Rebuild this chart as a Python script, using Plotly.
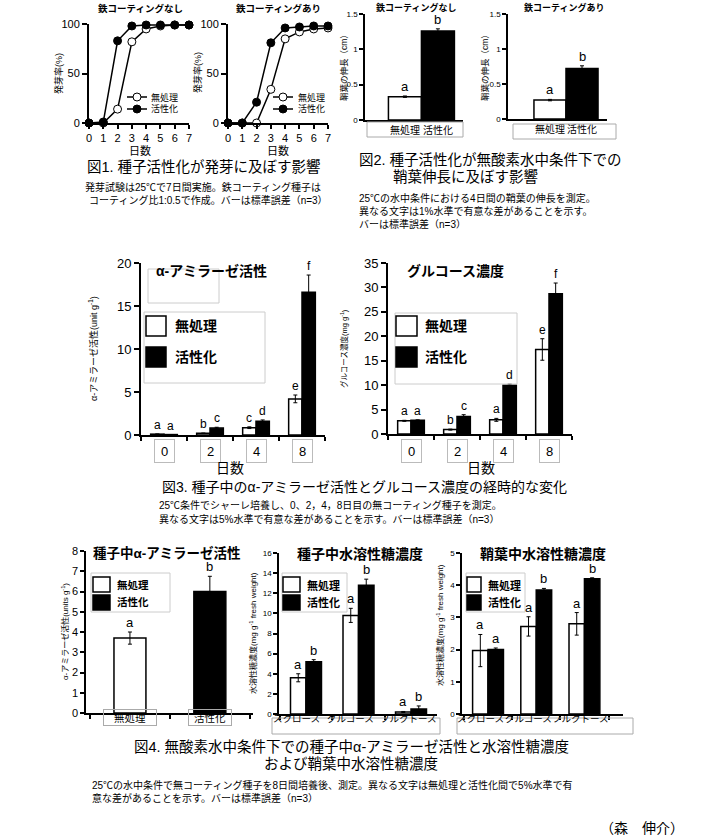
import plotly.graph_objects as go

W, H = 705, 840
def px(x): return x / W
def py(y): return 1 - y / H
def dx(a, b): return [a / W, b / W]
def dy(top, bottom): return [1 - bottom / H, 1 - top / H]

FONT = "Liberation Sans, Arial, Noto Sans CJK JP, sans-serif"

# ---------------- data ----------------
days_fig1 = [0, 1, 2, 3, 4, 5, 6, 7]
germ_nocoat_untreated = [0, 0, 14, 82, 95, 98, 99, 99]
germ_nocoat_activated = [0, 1, 83, 98, 99, 99, 99, 99]
germ_coat_untreated = [0, 0, 0, 34, 85, 92, 95, 96]
germ_coat_activated = [0, 0, 21, 81, 96, 97, 98, 98]

treatments = ["無処理", "活性化"]
coleoptile_nocoat = [0.33, 1.26]
coleoptile_nocoat_err = [0.01, 0.03]
coleoptile_coat = [0.27, 0.72]
coleoptile_coat_err = [0.01, 0.04]
coleoptile_nocoat_letters = ["a", "b"]
coleoptile_coat_letters = ["a", "b"]

fig3_days = ["0", "2", "4", "8"]
amylase_untreated = [0.1, 0.2, 0.85, 4.2]
amylase_untreated_err = [0.0, 0.03, 0.1, 0.45]
amylase_activated = [0.05, 0.8, 1.6, 16.6]
amylase_activated_err = [0.0, 0.1, 0.15, 2.0]
amylase_letters_untreated = ["a", "b", "c", "e"]
amylase_letters_activated = ["a", "c", "d", "f"]
glucose_untreated = [2.7, 0.9, 2.9, 17.3]
glucose_untreated_err = [0.1, 0.1, 0.3, 2.2]
glucose_activated = [2.8, 3.6, 10.0, 28.7]
glucose_activated_err = [0.1, 0.35, 0.2, 2.2]
glucose_letters_untreated = ["a", "b", "a", "e"]
glucose_letters_activated = ["a", "c", "d", "f"]

seed_amylase = [3.7, 6.0]
seed_amylase_err = [0.3, 0.75]
seed_amylase_letters = ["a", "b"]

sugars = ["スクロース", "グルコース", "フルクトース"]
seed_sugar_untreated = [3.6, 9.8, 0.2]
seed_sugar_untreated_err = [0.4, 0.7, 0.05]
seed_sugar_activated = [5.2, 12.8, 0.5]
seed_sugar_activated_err = [0.2, 0.6, 0.3]
seed_sugar_letters_untreated = ["a", "a", "a"]
seed_sugar_letters_activated = ["b", "b", "b"]
cole_sugar_untreated = [1.97, 2.72, 2.8]
cole_sugar_untreated_err = [0.5, 0.3, 0.35]
cole_sugar_activated = [2.0, 3.85, 4.2]
cole_sugar_activated_err = [0.05, 0.05, 0.03]
cole_sugar_letters_untreated = ["a", "a", "a"]
cole_sugar_letters_activated = ["a", "b", "b"]

# ---------------- figure ----------------
fig = go.Figure()
annotations = []
shapes = []

def txt(x, y, s, size, anchor="left", bold=False, color="black", angle=0):
    annotations.append(dict(
        x=px(x), y=py(y), xref="paper", yref="paper", text=("<b>%s</b>" % s) if bold else s,
        showarrow=False, xanchor=anchor, yanchor="middle", textangle=angle,
        font=dict(size=size, color=color, family=FONT)))

def rect(x0, y0, x1, y1, line="#bbbbbb", fill="rgba(0,0,0,0)", lw=1):
    shapes.append(dict(type="rect", xref="paper", yref="paper", x0=px(x0), x1=px(x1),
                       y0=py(y1), y1=py(y0), line=dict(color=line, width=lw), fillcolor=fill, layer="above"))

def errbar():
    return dict(type="data", color="black", thickness=1, width=2)

# Figure 1 lines
for (ua, aa, xa, ya) in [(germ_nocoat_untreated, germ_nocoat_activated, "x", "y"),
                         (germ_coat_untreated, germ_coat_activated, "x2", "y2")]:
    fig.add_trace(go.Scatter(x=days_fig1, y=ua, mode="lines+markers", xaxis=xa, yaxis=ya,
                             line=dict(color="black", width=1.5), cliponaxis=False,
                             marker=dict(size=8, color="white", line=dict(color="black", width=1))))
    fig.add_trace(go.Scatter(x=days_fig1, y=aa, mode="lines+markers", xaxis=xa, yaxis=ya,
                             line=dict(color="black", width=1.5), cliponaxis=False,
                             marker=dict(size=8, color="black", line=dict(color="black", width=1))))

# Figure 2 bars
for (vals, errs, letters, xa, ya) in [(coleoptile_nocoat, coleoptile_nocoat_err, coleoptile_nocoat_letters, "x3", "y3"),
                                      (coleoptile_coat, coleoptile_coat_err, coleoptile_coat_letters, "x4", "y4")]:
    e = errbar(); e["array"] = errs
    fig.add_trace(go.Bar(x=treatments, y=vals, width=1.0, xaxis=xa, yaxis=ya, error_y=e,
                         marker=dict(color=["white", "black"], line=dict(color="black", width=1.5))))
    for c, v, er, l in zip(treatments, vals, errs, letters):
        annotations.append(dict(x=c, y=v + er, xref=xa, yref=ya, text=l, showarrow=False,
                                yanchor="bottom", yshift=0, font=dict(size=13, color="black", family=FONT)))

# Grouped bar helper (numeric positions = category index)
def grouped(cats, u, ue, ul, a, ae, al, xa, ya, w, lsize):
    pos = list(range(len(cats)))
    e1 = errbar(); e1["array"] = ue
    e2 = errbar(); e2["array"] = ae
    fig.add_trace(go.Bar(x=pos, y=u, width=w, offset=-w, xaxis=xa, yaxis=ya, error_y=e1,
                         marker=dict(color="white", line=dict(color="black", width=1.5))))
    fig.add_trace(go.Bar(x=pos, y=a, width=w, offset=0, xaxis=xa, yaxis=ya, error_y=e2,
                         marker=dict(color="black", line=dict(color="black", width=1.5))))
    for i in pos:
        annotations.append(dict(x=i - w / 2, y=u[i] + ue[i], xref=xa, yref=ya, text=ul[i], showarrow=False,
                                yanchor="bottom", yshift=0, font=dict(size=lsize, color="black", family=FONT)))
        annotations.append(dict(x=i + w / 2, y=a[i] + ae[i], xref=xa, yref=ya, text=al[i], showarrow=False,
                                yanchor="bottom", yshift=0, font=dict(size=lsize, color="black", family=FONT)))

W3 = 0.29
grouped(fig3_days, amylase_untreated, amylase_untreated_err, amylase_letters_untreated,
        amylase_activated, amylase_activated_err, amylase_letters_activated, "x5", "y5", W3, 12)
grouped(fig3_days, glucose_untreated, glucose_untreated_err, glucose_letters_untreated,
        glucose_activated, glucose_activated_err, glucose_letters_activated, "x6", "y6", W3, 12)

# Figure 4 left
e = errbar(); e["array"] = seed_amylase_err
fig.add_trace(go.Bar(x=treatments, y=seed_amylase, width=0.4, xaxis="x7", yaxis="y7", error_y=e,
                     marker=dict(color=["white", "black"], line=dict(color="black", width=1.5))))
for c, v, er, l in zip(treatments, seed_amylase, seed_amylase_err, seed_amylase_letters):
    annotations.append(dict(x=c, y=v + er, xref="x7", yref="y7", text=l, showarrow=False,
                            yanchor="bottom", yshift=0, font=dict(size=13, color="black", family=FONT)))

grouped(sugars, seed_sugar_untreated, seed_sugar_untreated_err, seed_sugar_letters_untreated,
        seed_sugar_activated, seed_sugar_activated_err, seed_sugar_letters_activated, "x8", "y8", 0.295, 13)
grouped(sugars, cole_sugar_untreated, cole_sugar_untreated_err, cole_sugar_letters_untreated,
        cole_sugar_activated, cole_sugar_activated_err, cole_sugar_letters_activated, "x9", "y9", 0.32, 13)

# ---------------- axes ----------------
def xax(a, b, anchor, rng=None, lw=1.5, ticks="outside", showlabels=True, size=11, cat=False,
        dtick=None, boundaries=False, nlab=None):
    d = dict(domain=dx(a, b), anchor=anchor, showline=True, linecolor="black", linewidth=lw,
             ticks=ticks, ticklen=4, tickwidth=lw, tickcolor="black", showgrid=False, zeroline=False,
             showticklabels=showlabels, tickangle=0,
             tickfont=dict(size=size, color="black", family=FONT), fixedrange=True)
    if rng is not None: d["range"] = rng
    if cat: d["type"] = "category"
    if dtick is not None: d["dtick"] = dtick
    if boundaries: d["tickson"] = "boundaries"
    if nlab is not None:
        d["type"] = "linear"
        d["tickmode"] = "array"
        d["tickvals"] = [i - 0.5 for i in range(nlab + 1)]
        d["showticklabels"] = False
    return d

def yax(top, bottom, anchor, rng, dtick, size=11, lw=1.5, ticklen=4):
    return dict(domain=dy(top, bottom), anchor=anchor, range=rng, dtick=dtick, showline=True,
                linecolor="black", linewidth=lw, ticks="outside", ticklen=ticklen, tickwidth=lw,
                tickcolor="black", showgrid=False, zeroline=False,
                tickfont=dict(size=size, color="black", family=FONT), fixedrange=True)

layout = dict(
    width=W, height=H, margin=dict(l=0, r=0, t=0, b=0, autoexpand=False), showlegend=False,
    paper_bgcolor="white", plot_bgcolor="white", barmode="overlay",
    font=dict(family=FONT, color="black"),
    xaxis=xax(89, 189, "y", rng=[0, 7], lw=2, dtick=1, size=11),
    yaxis=yax(24, 123, "x", [0, 100], 50, size=11, lw=2, ticklen=5),
    xaxis2=xax(228, 328, "y2", rng=[0, 7], lw=2, dtick=1, size=11),
    yaxis2=yax(24, 123, "x2", [0, 100], 50, size=11, lw=2, ticklen=5),
    xaxis3=xax(365, 463, "y3", rng=[-1.21, 1.76], ticks="", size=10, cat=True),
    yaxis3=yax(14, 120, "x3", [0, 1.5], 0.5, size=8),
    xaxis4=xax(508, 607, "y4", rng=[-1.31, 1.78], ticks="", size=10, cat=True),
    yaxis4=yax(14, 119, "x4", [0, 1.5], 0.5, size=8),
    xaxis5=xax(141, 325, "y5", rng=[-0.5, 3.5], lw=2, nlab=len(fig3_days)),
    yaxis5=yax(263, 435, "x5", [0, 20], 5, size=13, lw=2, ticklen=5),
    xaxis6=xax(388, 572, "y6", rng=[-0.5, 3.5], lw=2, nlab=len(fig3_days)),
    yaxis6=yax(263, 434, "x6", [0, 35], 5, size=13, lw=2, ticklen=5),
    xaxis7=xax(86, 253, "y7", rng=[-0.55, 1.54], showlabels=False, cat=True, boundaries=True),
    yaxis7=yax(551, 713, "x7", [0, 8], 1, size=11),
    xaxis8=xax(279, 437, "y8", rng=[-0.514, 2.495], size=9.5, nlab=len(sugars)),
    yaxis8=yax(553, 714, "x8", [0, 16], 2, size=8),
    xaxis9=xax(462, 623, "y9", rng=[-0.54, 2.8], size=9.5, nlab=len(sugars)),
    yaxis9=yax(553, 714, "x9", [0, 5], 1, size=8),
)

# ---------------- texts ----------------
# Fig1
txt(140, 9, "鉄コーティングなし", 9.5, "center", bold=True)
txt(278, 9, "鉄コーティングあり", 9.5, "center", bold=True)
txt(58, 73, "発芽率(%)", 9, "center", angle=-90)
txt(197, 73, "発芽率(%)", 9, "center", angle=-90)
txt(140, 151, "日数", 11, "center")
txt(278, 151, "日数", 11, "center")
for (lx0, lx1, cx, tx) in [(127, 147, 137, 149), (273, 293, 283, 296)]:
    for (yy, fillc, lab) in [(97, "white", "無処理"), (109, "black", "活性化")]:
        shapes.append(dict(type="line", xref="paper", yref="paper", x0=px(lx0), x1=px(lx1), y0=py(yy), y1=py(yy),
                           line=dict(color="black", width=1.5)))
        shapes.append(dict(type="circle", xref="paper", yref="paper", x0=px(cx - 4), x1=px(cx + 4),
                           y0=py(yy + 4), y1=py(yy - 4), fillcolor=fillc, line=dict(color="black", width=1)))
        txt(tx, yy, lab, 9)
txt(85, 167, "図1. 種子活性化が発芽に及ぼす影響", 14.5)
txt(83, 187, "発芽試験は25℃で7日間実施。鉄コーティング種子は", 10)
txt(87, 200, "コーティング比1:0.5で作成。バーは標準誤差（n=3）", 10)

# Fig2
txt(416, 8, "鉄コーティングなし", 9, "center", bold=True)
txt(564, 8, "鉄コーティングあり", 9, "center", bold=True)
txt(344, 66, "鞘葉の伸長（cm）", 8.5, "center", angle=-90)
txt(485, 66, "鞘葉の伸長（cm）", 8.5, "center", angle=-90)
rect(367, 122, 463, 137, line="#aaaaaa")
rect(513, 124, 616, 139, line="#aaaaaa")
txt(357, 160, "図2. 種子活性化が無酸素水中条件下での", 14.5)
txt(391, 177, "鞘葉伸長に及ぼす影響", 14.5)
txt(357, 198, "25℃の水中条件における4日間の鞘葉の伸長を測定。", 10)
txt(357, 211, "異なる文字は1%水準で有意な差があることを示す。", 10)
txt(357, 224, "バーは標準誤差（n=3）", 10)

# Fig3
txt(211, 271, "α-アミラーゼ活性", 14, "center", bold=True)
txt(455, 271, "グルコース濃度", 14, "center", bold=True)
txt(93, 349, "α-アミラーゼ活性(unit g<sup>-1</sup>)", 9, "center", angle=-90)
txt(344, 349, "グルコース濃度(mg g<sup>-1</sup>)", 7.5, "center", angle=-90)
for xa in ["x5", "x6"]:
    for i, c in enumerate(fig3_days):
        annotations.append(dict(x=i, xref=xa, y=py(451), yref="paper", text=c, showarrow=False,
                                bordercolor="#bbbbbb", borderwidth=1, borderpad=0, width=19, height=22,
                                font=dict(size=13, color="black", family=FONT)))
txt(230, 468, "日数", 14, "center")
txt(481, 468, "日数", 14, "center")
rect(148, 269, 219, 303, line="#cccccc")
rect(144, 312, 265, 383, line="#cccccc")
rect(395, 313, 517, 384, line="#cccccc")
for (sx0, sx1, tx) in [(146, 166, 173), (396, 417, 423)]:
    rect(sx0, 316, sx1, 336, line="black", fill="white", lw=1.5)
    rect(sx0, 347, sx1, 367, line="black", fill="black", lw=1.5)
    txt(tx, 326, "無処理", 14, bold=True)
    txt(tx, 357, "活性化", 14, bold=True)
txt(160, 487, "図3. 種子中のα-アミラーゼ活性とグルコース濃度の経時的な変化", 14)
txt(157, 505, "25℃条件でシャーレ培養し、0、2，4，8日目の無コーティング種子を測定。", 10)
txt(157, 519, "異なる文字は5%水準で有意な差があることを示す。バーは標準誤差（n=3）", 10)

# Fig4
txt(167, 553, "種子中α-アミラーゼ活性", 13.5, "center", bold=True)
txt(360, 554, "種子中水溶性糖濃度", 14, "center", bold=True)
txt(543, 554, "鞘葉中水溶性糖濃度", 14, "center", bold=True)
txt(65, 632, "α-アミラーゼ活性(units g<sup>-1</sup>)", 8, "center", angle=-90)
txt(253, 633, "水溶性糖濃度(mg g<sup>-1</sup> fresh weight)", 8, "center", angle=-90)
txt(440, 625, "水溶性糖濃度(mg g<sup>-1</sup> fresh weight)", 8, "center", angle=-90)
for c, wbox in zip(treatments, [52, 42]):
    annotations.append(dict(x=c, xref="x7", y=py(726), yref="paper", text=c, showarrow=False,
                            bordercolor="#aaaaaa", borderwidth=1, borderpad=0, width=wbox, height=15,
                            font=dict(size=10.5, color="black", family=FONT)))
for xa, shifts in [("x8", [-9, -8, -3]), ("x9", [-8, -8, -4])]:
    for i, c in enumerate(sugars):
        annotations.append(dict(x=i, xref=xa, xshift=shifts[i], y=py(726), yref="paper", text=c,
                                showarrow=False, font=dict(size=9.5, color="black", family=FONT)))
rect(272, 718, 440, 734, line="#aaaaaa")
rect(457, 718, 633, 734, line="#aaaaaa")
rect(91, 573, 170, 612, line="#cccccc")
rect(282, 573, 347, 612, line="#cccccc")
rect(466, 573, 525, 612, line="#cccccc")
for (sx0, sx1, tx, fs) in [(93, 110, 115, 10.5), (283, 300, 305, 11), (467, 481, 486, 11)]:
    rect(sx0, 577, sx1, 592, line="black", fill="white", lw=1.5)
    rect(sx0, 595, sx1, 610, line="black", fill="black", lw=1.5)
    txt(tx, 585, "無処理", fs, bold=True)
    txt(tx, 602, "活性化", fs, bold=True)
txt(351, 747, "図4. 無酸素水中条件下での種子中α-アミラーゼ活性と水溶性糖濃度", 14.5, "center")
txt(351, 764, "および鞘葉中水溶性糖濃度", 14.5, "center")
txt(90, 785, "25℃の水中条件で無コーティング種子を8日間培養後、測定。異なる文字は無処理と活性化間で5%水準で有", 10)
txt(90, 798, "意な差があることを示す。バーは標準誤差（n=3）", 10)
txt(686, 828, "（森　伸介）", 14, "right")

layout["annotations"] = annotations
layout["shapes"] = shapes
fig.update_layout(**layout)
fig.write_html("out.html", config={"displayModeBar": False},
               post_script="document.body.style.margin='0';document.body.style.padding='0';document.body.style.overflow='hidden';")
